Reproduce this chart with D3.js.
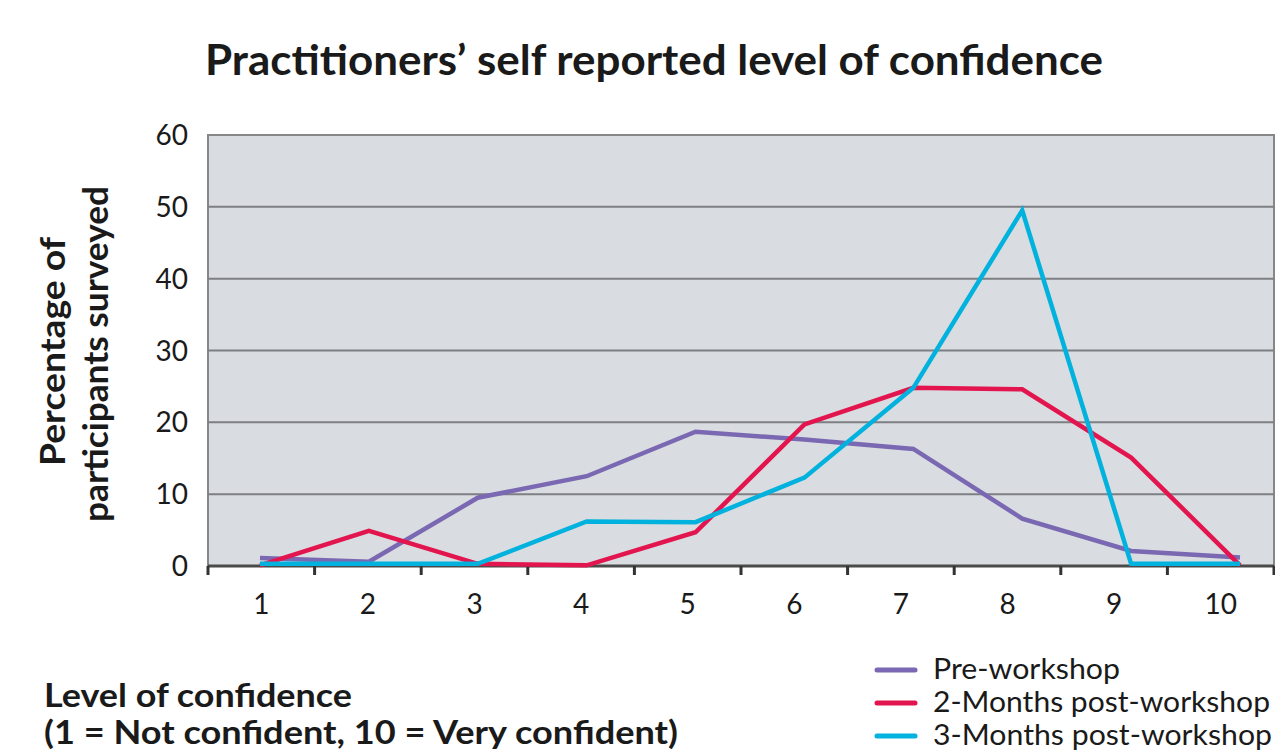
<!DOCTYPE html>
<html>
<head>
<meta charset="utf-8">
<script src="https://cdn.jsdelivr.net/npm/d3@7/dist/d3.min.js"></script>
<style>
  body{margin:0;background:#fff;}
  svg text{font-family:Lato,"Open Sans",sans-serif;fill:#1a1a1a;}
</style>
</head>
<body>
<svg id="chart" width="1275" height="751"></svg>
<script>
// data
const levels=[1,2,3,4,5,6,7,8,9,10];
const preWorkshop=[1.1,0.6,9.5,12.5,18.7,17.6,16.3,6.6,2.1,1.2];
const twoMonths=[0.1,4.9,0.3,0.1,4.7,19.7,24.8,24.6,15.1,0.1];
const threeMonths=[0.3,0.3,0.3,6.2,6.1,12.3,24.8,49.5,0.3,0.3];
const yTicks=[0,10,20,30,40,50,60];

const series=[
  {name:"Pre-workshop",values:preWorkshop,color:"#7a68b3",w:187},
  {name:"2-Months post-workshop",values:twoMonths,color:"#e3154f",w:337},
  {name:"3-Months post-workshop",values:threeMonths,color:"#00b2dd",w:339}
];

const svg=d3.select("#chart");
const plotL=208,plotR=1274,plotT=135,plotB=566;

// band scale for the axis labels, point positions for the lines sit slightly wider
const xBand=d3.scaleBand().domain(levels).range([plotL,plotR]);
const xLine=d3.scaleLinear().domain([1,10]).range([260,1240]);
const y=d3.scaleLinear().domain([0,60]).range([plotB,plotT]);

// plot background
svg.append("rect")
  .attr("x",plotL).attr("y",plotT)
  .attr("width",plotR-plotL).attr("height",plotB-plotT)
  .attr("fill","#d9dce0")
  .attr("stroke","#858789").attr("stroke-width",2);

// gridlines
svg.append("g")
  .selectAll("line")
  .data(yTicks.filter(d=>d>0&&d<60))
  .join("line")
  .attr("x1",plotL).attr("x2",plotR)
  .attr("y1",d=>y(d)).attr("y2",d=>y(d))
  .attr("stroke","#7d7f82").attr("stroke-width",2);

// y axis labels
svg.append("g")
  .selectAll("text")
  .data(yTicks)
  .join("text")
  .attr("x",188).attr("y",d=>y(d)+10)
  .attr("text-anchor","end")
  .attr("font-size",28)
  .text(d=>d);

// x axis
const xAxis=svg.append("g");
xAxis.append("line")
  .attr("x1",plotL).attr("x2",plotR)
  .attr("y1",plotB).attr("y2",plotB)
  .attr("stroke","#4a4a4a").attr("stroke-width",3);
const edges=levels.map(d=>xBand(d)).concat([plotR]);
xAxis.selectAll("line.tick")
  .data(edges)
  .join("line")
  .attr("class","tick")
  .attr("x1",d=>d).attr("x2",d=>d)
  .attr("y1",plotB).attr("y2",plotB+9)
  .attr("stroke","#333").attr("stroke-width",3);
xAxis.selectAll("text")
  .data(levels)
  .join("text")
  .attr("x",d=>xBand(d)+xBand.bandwidth()/2)
  .attr("y",614)
  .attr("text-anchor","middle")
  .attr("font-size",28)
  .text(d=>d);

// lines
const line=d3.line()
  .x((d,i)=>xLine(levels[i]))
  .y(d=>y(d));
svg.append("g")
  .selectAll("path")
  .data(series)
  .join("path")
  .attr("d",d=>line(d.values))
  .attr("fill","none")
  .attr("stroke",d=>d.color)
  .attr("stroke-width",4.5)
  .attr("stroke-linejoin","miter");

// title
svg.append("text")
  .attr("x",205).attr("y",75)
  .attr("font-size",42).attr("font-weight","bold")
  .attr("textLength",898).attr("lengthAdjust","spacingAndGlyphs")
  .text("Practitioners\u2019 self reported level of confidence");

// y axis title
const yTitle=svg.append("g")
  .attr("transform","translate(0,352) rotate(-90)")
  .attr("font-size",34).attr("font-weight","bold");
yTitle.append("text").attr("x",-114).attr("y",65)
  .attr("textLength",229).attr("lengthAdjust","spacingAndGlyphs")
  .text("Percentage of");
yTitle.append("text").attr("x",-170).attr("y",108)
  .attr("textLength",336).attr("lengthAdjust","spacingAndGlyphs")
  .text("participants surveyed");

// x axis title
svg.append("text")
  .attr("x",44).attr("y",707)
  .attr("font-size",32).attr("font-weight","bold")
  .attr("textLength",308).attr("lengthAdjust","spacingAndGlyphs")
  .text("Level of confidence");
svg.append("text")
  .attr("x",44).attr("y",744)
  .attr("font-size",32).attr("font-weight","bold")
  .attr("textLength",634).attr("lengthAdjust","spacingAndGlyphs")
  .text("(1 = Not confident, 10 = Very confident)");

// legend
const legend=svg.append("g")
  .selectAll("g")
  .data(series)
  .join("g")
  .attr("transform",(d,i)=>`translate(875,${670+i*33})`);
legend.append("line")
  .attr("x1",2).attr("x2",40)
  .attr("stroke",d=>d.color).attr("stroke-width",5).attr("stroke-linecap","round");
legend.append("text")
  .attr("x",58).attr("y",9)
  .attr("font-size",28)
  .attr("textLength",d=>d.w).attr("lengthAdjust","spacingAndGlyphs")
  .text(d=>d.name);
</script>
</body>
</html>
